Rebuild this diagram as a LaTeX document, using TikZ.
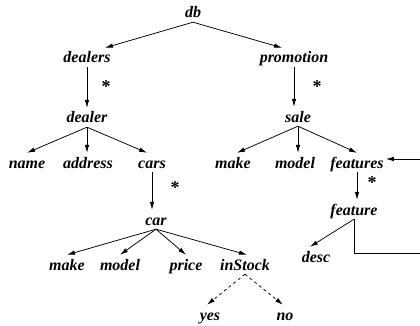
\documentclass[tikz,border=0pt]{standalone}
\usepackage{fontspec}
\setmainfont{Liberation Serif}
\usetikzlibrary{arrows.meta,calc,positioning}

\tikzset{
  lbl/.style={inner xsep=2pt,inner ysep=4pt,text height=11pt,text depth=0pt,anchor=base,
    font=\fontsize{16}{19}\selectfont\bfseries\itshape},
  star/.style={inner sep=0pt,anchor=base,font=\fontsize{18}{21}\selectfont\bfseries},
  edge/.style={line width=0.75pt,-{Latex[length=8pt,width=4.5pt]}},
  opt/.style={edge,dashed,dash pattern=on 3pt off 3pt}
}

\begin{document}
\begin{tikzpicture}[x=1pt,y=-1pt]
       \useasboundingbox (0,0) rectangle (420,326);

       \node[lbl] (db)        at (193,18)  {db};
       \node[lbl] (dealers)   at (87,63)   {dealers};
       \node[lbl] (promotion) at (294,63)  {promotion};

       \node[lbl] (dealer)    at (87,123)  {dealer};
       \node[lbl] (sale)      at (298,122) {sale};

       \node[lbl] (name)      at (27,168)  {name};
       \node[lbl] (address)   at (88,168)  {address};
       \node[lbl] (cars)      at (152,168) {cars};
       \node[lbl] (smake)     at (233,168) {make};
       \node[lbl] (smodel)    at (295,168) {model};
       \node[lbl] (features)  at (357,168) {features};

       \node[lbl] (car)       at (156,225) {car};
       \node[lbl] (feature)   at (354,215) {feature};

       \node[lbl] (cmake)     at (67,270)  {make};
       \node[lbl] (cmodel)    at (120,270) {model};
       \node[lbl] (price)     at (186,270) {price};
       \node[lbl] (instock)   at (245,270) {inStock};
       \node[lbl] (desc)      at (316,262) {desc};

       \node[lbl] (yes)       at (210,320) {yes};
       \node[lbl] (no)        at (285,320) {no};

       \node[star] (s1) at (106,93)  {*};
       \node[star] (s2) at (317,93)  {*};
       \node[star] (s3) at (175,193) {*};
       \node[star] (s4) at (372,188) {*};

       \coordinate (LP1) at (430,253);
       \coordinate (LP2) at (430,159);

       \draw[edge] (db.south) -- ([xshift=18pt]dealers.north);
       \draw[edge] (db.south) -- ([xshift=-12pt]promotion.north);
       \draw[edge] (dealers.south) -- (dealers.south |- dealer.north);
       \draw[edge] (promotion.south) -- (promotion.south |- sale.north);

       \draw[edge] (dealer.south) -- (name.north);
       \draw[edge] (dealer.south) -- (dealer.south |- address.north);
       \draw[edge] (dealer.south) -- ([xshift=-5pt]cars.north);
       \draw[edge] (sale.south) -- ([xshift=4pt]smake.north);
       \draw[edge] (sale.south) -- (sale.south |- smodel.north);
       \draw[edge] (sale.south) -- (features.north);

       \draw[edge] (cars.south) -- (cars.south |- car.north);
       \draw[edge] (features.south) -- (features.south |- feature.north);

       \draw[edge] (car.south) -- (cmake.north);
       \draw[edge] (car.south) -- (cmodel.north);
       \draw[edge] (car.south) -- (price.north);
       \draw[edge] (car.south) -- ([xshift=2pt]instock.north);
       \draw[edge] (feature.south) -- ([xshift=-6pt]desc.north);
       \draw[edge] (feature.south) |- (LP1) -- (LP2) -- (features.east |- LP2);

       \draw[opt] (instock.south) -- ([xshift=-3pt]yes.north);
       \draw[opt] (instock.south) -- ([xshift=-2pt]no.north);
     \end{tikzpicture}
\end{document}
